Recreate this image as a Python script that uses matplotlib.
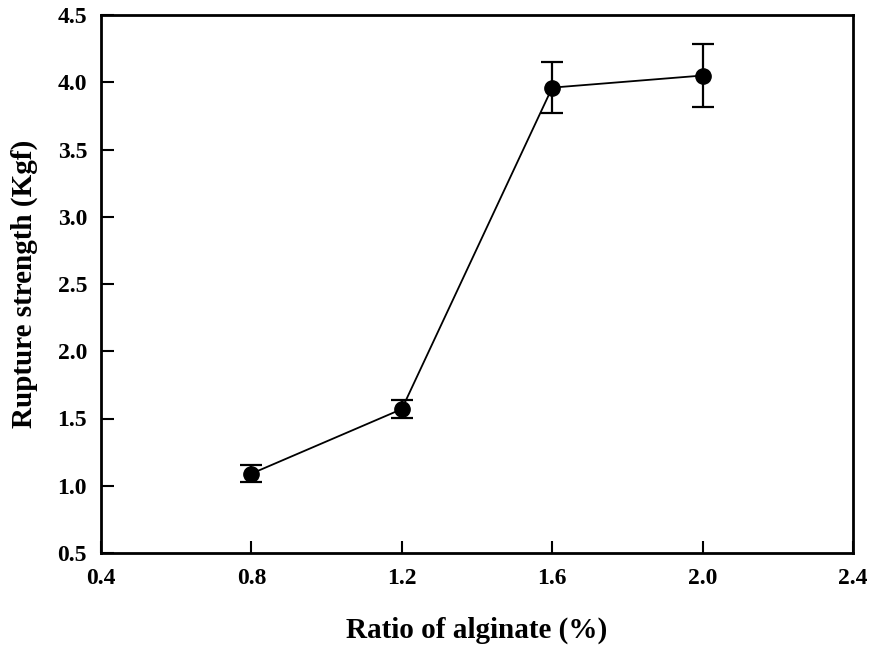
import matplotlib
matplotlib.use("Agg")
import matplotlib.pyplot as plt

ratio = [0.8, 1.2, 1.6, 2.0]
strength = [1.09, 1.57, 3.96, 4.05]
err = [0.065, 0.065, 0.19, 0.235]
xticks = [0.4, 0.8, 1.2, 1.6, 2.0, 2.4]
yticks = [0.5, 1.0, 1.5, 2.0, 2.5, 3.0, 3.5, 4.0, 4.5]

plt.rcParams['font.family'] = ['Liberation Serif', 'DejaVu Serif']
plt.rcParams['font.weight'] = 'bold'

fig = plt.figure(figsize=(8.73, 6.52), dpi=100)
ax = fig.add_axes([101/873, 1-553/652, 752/873, 538/652])
ax.errorbar(ratio, strength, yerr=err, fmt='-o', color='black', ms=11,
            lw=1.3, elinewidth=1.6, capsize=8, capthick=1.6)
ax.set_xlim(0.4, 2.4)
ax.set_ylim(0.5, 4.5)
ax.set_xticks(xticks)
ax.set_xticklabels([f"{v:.1f}" for v in xticks])
ax.set_yticks(yticks)
ax.set_yticklabels([f"{v:.1f}" for v in yticks])
ax.tick_params(direction='in', length=9, width=1.5, labelsize=17)
ax.tick_params(axis='x', pad=11)
ax.tick_params(axis='y', pad=10)
for s in ax.spines.values():
    s.set_linewidth(2)
ax.set_xlabel('Ratio of alginate (%)', fontsize=21, fontweight='bold', labelpad=20)
ax.set_ylabel('Rupture strength (Kgf)', fontsize=21, fontweight='bold', labelpad=14)
fig.savefig('out.png', dpi=100)
